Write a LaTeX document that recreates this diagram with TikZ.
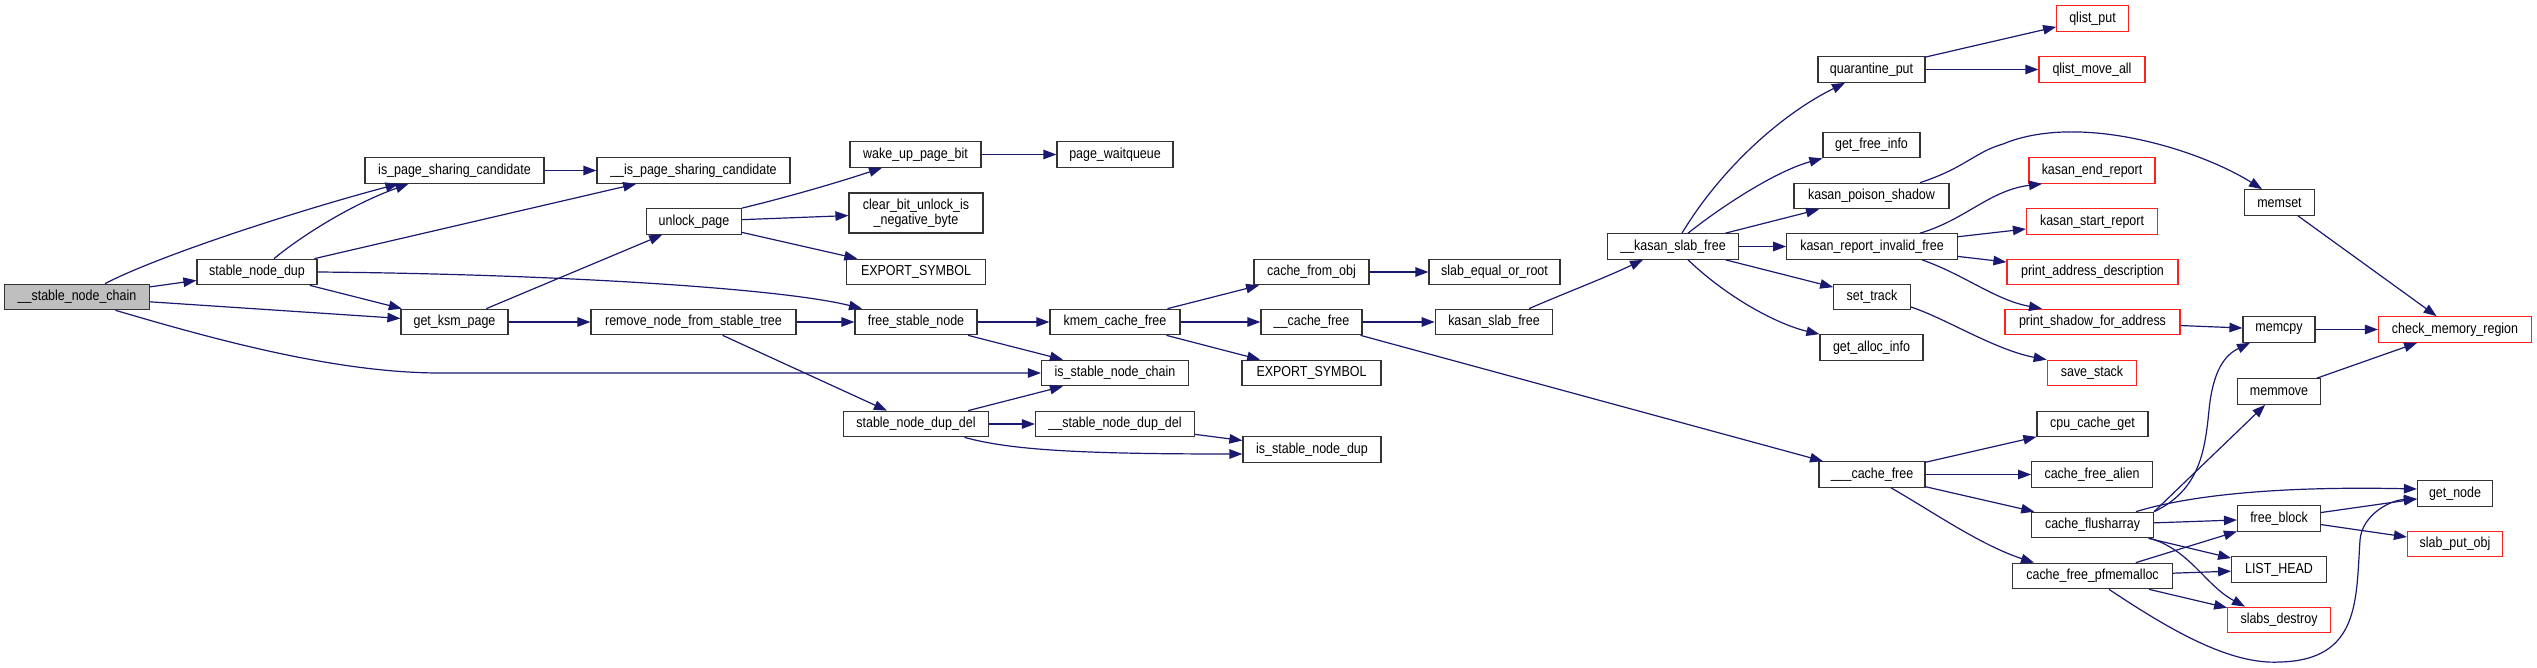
\documentclass[tikz,border=0pt]{standalone}
\usepackage{fontspec}
\setmainfont{Liberation Sans}[FakeStretch=0.86]
\usetikzlibrary{arrows.meta}
\definecolor{edgec}{HTML}{191970}
\definecolor{boxc}{HTML}{333333}
\definecolor{redc}{HTML}{FF2020}
\definecolor{rootc}{HTML}{BFBFBF}
\begin{document}
\begin{tikzpicture}[x=1pt,y=-1pt,
  fn/.style={draw=boxc, line width=1.2pt, fill=white, inner sep=0pt, minimum height=25.5pt, align=center, font=\fontsize{14.5}{15}\selectfont},
  rfn/.style={fn, draw=redc},
  edge/.style={draw=edgec, line width=1.2pt, -{Triangle[length=13pt,width=9.5pt]}}]
\useasboundingbox (0,0) rectangle (2537,668);
% nodes
\node[fn, fill=rootc, minimum width=145pt] (root) at (77,297) {\_\_stable\_node\_chain};
\node[fn, minimum width=120pt] (snd) at (257,272) {stable\_node\_dup};
\node[fn, minimum width=179pt] (ispsc) at (454.5,170.5) {is\_page\_sharing\_candidate};
\node[fn, minimum width=193pt] (uispsc) at (693.5,170.5) {\_\_is\_page\_sharing\_candidate};
\node[fn, minimum width=107pt] (gkp) at (454.5,322) {get\_ksm\_page};
\node[fn, minimum width=94.5pt] (unlock) at (694,221.5) {unlock\_page};
\node[fn, minimum width=205pt] (rnfst) at (693.5,322) {remove\_node\_from\_stable\_tree};
\node[fn, minimum width=131pt] (wupb) at (915.5,154.5) {wake\_up\_page\_bit};
\node[fn, minimum width=116pt] (pwq) at (1115,154.5) {page\_waitqueue};
\node[fn, minimum width=134pt, minimum height=40pt] (cbu) at (916,213) {clear\_bit\_unlock\_is\\\_negative\_byte};
\node[fn, minimum width=138.5pt] (exp1) at (916,272) {EXPORT\_SYMBOL};
\node[fn, minimum width=122pt] (fsn) at (916,322) {free\_stable\_node};
\node[fn, minimum width=130pt] (kcf) at (1115,322) {kmem\_cache\_free};
\node[fn, minimum width=115pt] (cfo) at (1311.5,272) {cache\_from\_obj};
\node[fn, minimum width=131pt] (seor) at (1494.5,272) {slab\_equal\_or\_root};
\node[fn, minimum width=101pt] (ucf) at (1311.5,322) {\_\_cache\_free};
\node[fn, minimum width=117.5pt] (ksf) at (1494,322) {kasan\_slab\_free};
\node[fn, minimum width=131pt] (uksf) at (1673,246.5) {\_\_kasan\_slab\_free};
\node[fn, minimum width=107pt] (qp) at (1871.5,69.5) {quarantine\_put};
\node[fn, minimum width=97pt] (gfi) at (1871.5,145) {get\_free\_info};
\node[fn, minimum width=155pt] (kps) at (1871.5,196) {kasan\_poison\_shadow};
\node[fn, minimum width=170.5pt] (krif) at (1872,246.5) {kasan\_report\_invalid\_free};
\node[fn, minimum width=76.5pt] (st) at (1872,297) {set\_track};
\node[fn, minimum width=103pt] (gai) at (1871.5,347.5) {get\_alloc\_info};
\node[fn, minimum width=139pt] (exp2) at (1311.5,373) {EXPORT\_SYMBOL};
\node[fn, minimum width=138pt] (isnd) at (1312,449.5) {is\_stable\_node\_dup};
\node[fn, minimum width=106pt] (uucf) at (1872,474.5) {\_\_\_cache\_free};
\node[fn, minimum width=147pt] (isnc) at (1115,373) {is\_stable\_node\_chain};
\node[fn, minimum width=145pt] (sndd) at (916,424) {stable\_node\_dup\_del};
\node[fn, minimum width=159pt] (usndd) at (1115,424) {\_\_stable\_node\_dup\_del};
\node[rfn, minimum width=71.5pt] (qlp) at (2092.5,18.5) {qlist\_put};
\node[rfn, minimum width=106pt] (qlma) at (2092,69.5) {qlist\_move\_all};
\node[rfn, minimum width=126pt] (ker) at (2092,170.5) {kasan\_end\_report};
\node[rfn, minimum width=131pt] (ksr) at (2092,221.5) {kasan\_start\_report};
\node[rfn, minimum width=171pt] (pad) at (2092.5,272) {print\_address\_description};
\node[rfn, minimum width=175pt] (psfa) at (2092.5,322) {print\_shadow\_for\_address};
\node[fn, minimum width=70pt] (memset) at (2279.5,202.5) {memset};
\node[fn, minimum width=72pt] (memcpy) at (2279,329.5) {memcpy};
\node[rfn, minimum width=153pt] (cmr) at (2455,329.5) {check\_memory\_region};
\node[rfn, minimum width=89.5pt] (ss) at (2092,373) {save\_stack};
\node[fn, minimum width=83pt] (memmove) at (2279,391.5) {memmove};
\node[fn, minimum width=111pt] (ccg) at (2092.5,424) {cpu\_cache\_get};
\node[fn, minimum width=120.7pt] (cfa) at (2092,474.5) {cache\_free\_alien};
\node[fn, minimum width=122pt] (cfl) at (2092.5,525) {cache\_flusharray};
\node[fn, minimum width=160pt] (cfp) at (2092.5,576) {cache\_free\_pfmemalloc};
\node[fn, minimum width=75pt] (gn) at (2455,493.5) {get\_node};
\node[fn, minimum width=83pt] (fb) at (2279,518.5) {free\_block};
\node[rfn, minimum width=95pt] (spo) at (2455,544) {slab\_put\_obj};
\node[fn, minimum width=94.6pt] (lh) at (2279,569.5) {LIST\_HEAD};
\node[rfn, minimum width=102.6pt] (sd) at (2279,620) {slabs\_destroy};
% edges
\draw[edge] (root) -- (snd);
\draw[edge] ([xshift=28pt]root.north) .. controls (160,255) and (300,210) .. ([xshift=-56pt]ispsc.south);
\draw[edge] (root) -- (gkp);
\draw[edge] ([xshift=38.5pt]root.south) .. controls (200,335) and (330,373) .. (440,373) -- (isnc.west);
\draw[edge] ([xshift=17pt]snd.north) .. controls (300,237) and (350,205) .. ([xshift=-46pt]ispsc.south);
\draw[edge] (snd) -- (uispsc);
\draw[edge] (snd) -- (gkp);
\draw[edge] (snd.east) .. controls (550,274) and (780,288) .. ([xshift=-54pt]fsn.north);
\draw[edge] (ispsc) -- (uispsc);
\draw[edge] (gkp) -- (unlock);
\draw[edge] (gkp) -- (rnfst);
\draw[edge] (unlock.north east) .. controls (780,199) and (830,185) .. ([xshift=-33.5pt]wupb.south);
\draw[edge] (unlock) -- (cbu);
\draw[edge] (unlock) -- (exp1);
\draw[edge] (wupb) -- (pwq);
\draw[edge] (rnfst) -- (fsn);
\draw[edge] (rnfst) -- (sndd);
\draw[edge] (fsn) -- (kcf);
\draw[edge] (fsn) -- (isnc);
\draw[edge] (kcf) -- (cfo);
\draw[edge] (kcf) -- (ucf);
\draw[edge] (kcf) -- (exp2);
\draw[edge] (cfo) -- (seor);
\draw[edge] (ucf) -- (ksf);
\draw[edge] (ucf) -- (uucf);
\draw[edge] ([xshift=35pt]ksf.north) .. controls (1560,295) and (1600,280) .. ([xshift=-30pt]uksf.south);
\draw[edge] (sndd) -- (isnc);
\draw[edge] (sndd) -- (usndd);
\draw[edge] ([xshift=48.5pt]sndd.south) .. controls (1010,450) and (1080,454) .. ([yshift=-4.5pt]isnd.west);
\draw[edge] (usndd) -- (isnd);
\draw[edge] ([xshift=9pt]uksf.north) .. controls (1720,170) and (1780,115) .. ([xshift=-26.5pt]qp.south);
\draw[edge] ([xshift=15pt]uksf.north) .. controls (1730,200) and (1780,170) .. (gfi.south west);
\draw[edge] (uksf) -- (kps);
\draw[edge] (uksf) -- (krif);
\draw[edge] (uksf) -- (st);
\draw[edge] ([xshift=15pt]uksf.south) .. controls (1730,300) and (1780,325) .. (gai.north west);
\draw[edge] (qp) -- (qlp);
\draw[edge] (qp) -- (qlma);
\draw[edge] ([xshift=48.5pt]kps.north) .. controls (1965,168) and (1975,152) .. (2003,144) .. controls (2080,112) and (2200,150) .. ([xshift=-17.5pt]memset.north);
\draw[edge] ([xshift=48pt]krif.north) .. controls (1965,220) and (1990,190) .. ([xshift=-50pt]ker.south);
\draw[edge] (krif) -- (ksr);
\draw[edge] (krif) -- (pad);
\draw[edge] ([xshift=50pt]krif.south) .. controls (1965,275) and (1995,300) .. ([xshift=-50.5pt]psfa.north);
\draw[edge] ([yshift=-10pt]st.east) .. controls (1945,318) and (1995,350) .. (ss.north west);
\draw[edge] (memset) -- (cmr);
\draw[edge] (psfa) -- (memcpy);
\draw[edge] (memcpy) -- (cmr);
\draw[edge] (memmove) -- (cmr);
\draw[edge] (uucf) -- (ccg);
\draw[edge] (uucf) -- (cfa);
\draw[edge] (uucf) -- (cfl);
\draw[edge] ([xshift=19pt]uucf.south) .. controls (1930,510) and (1980,545) .. ([xshift=-58.5pt]cfp.north);
\draw[edge] (cfl.north east) .. controls (2200,490) and (2205,450) .. (2209,410) .. controls (2213,370) and (2225,355) .. ([xshift=-29pt]memcpy.south);
\draw[edge] (cfl.north east) -- (memmove);
\draw[edge] ([xshift=43.5pt]cfl.north) .. controls (2190,495) and (2280,486) .. ([yshift=4.5pt]gn.west);
\draw[edge] (cfl) -- (fb);
\draw[edge] (cfl) -- (lh);
\draw[edge] ([xshift=57.5pt]cfl.south) .. controls (2190,550) and (2205,585) .. ([xshift=-34pt]sd.north);
\draw[edge] (cfp) -- (fb);
\draw[edge] (cfp) -- (lh);
\draw[edge] (cfp) -- (sd);
\draw[edge] ([xshift=16.5pt]cfp.south) .. controls (2170,630) and (2230,665) .. (2280,662) .. controls (2360,660) and (2356,600) .. (2360,540) .. controls (2362,515) and (2390,500) .. ([yshift=-5.5pt]gn.west);
\draw[edge] (fb) -- (gn);
\draw[edge] (fb) -- (spo);
\end{tikzpicture}
\end{document}
